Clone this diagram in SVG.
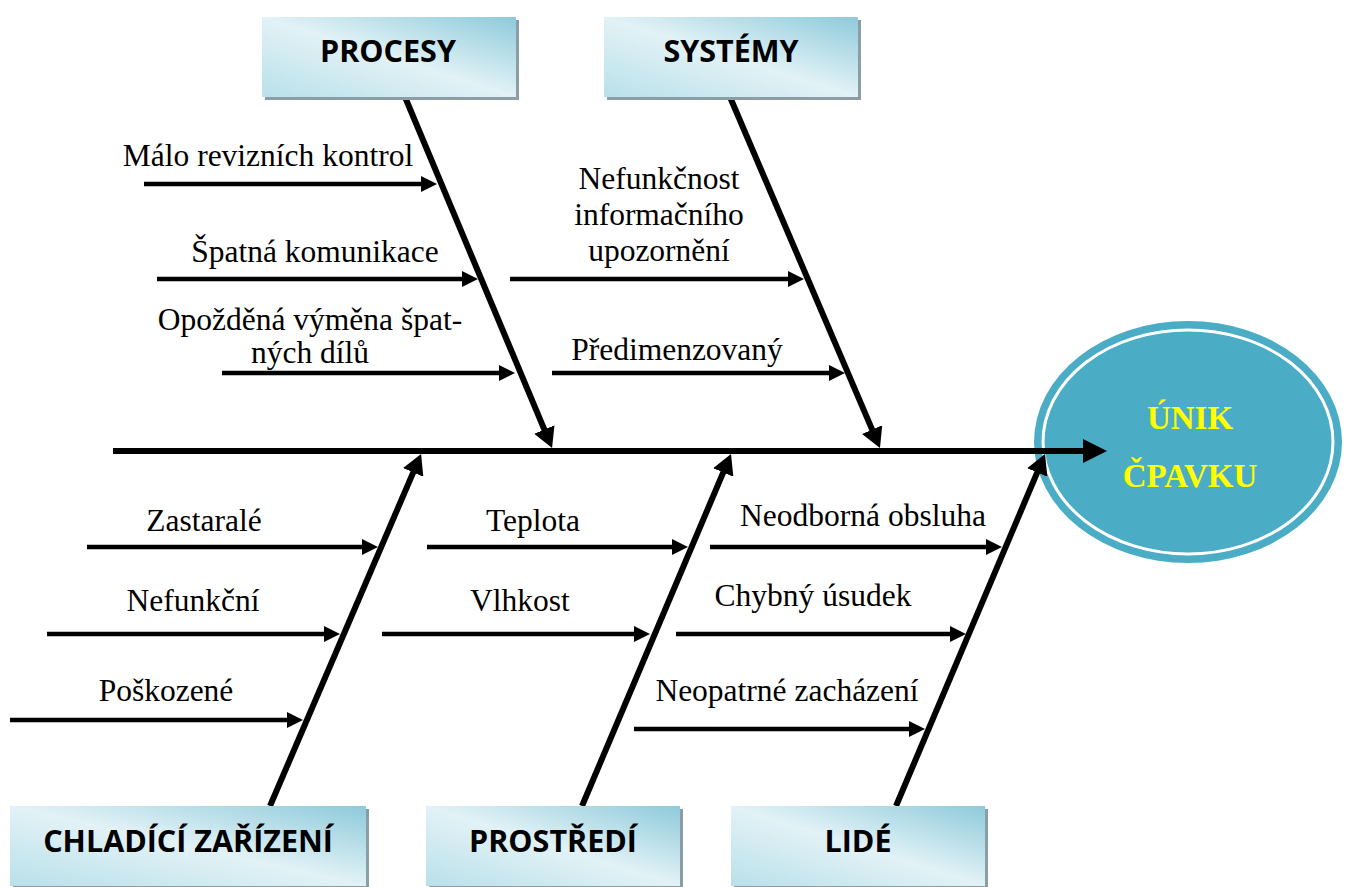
<svg xmlns="http://www.w3.org/2000/svg" width="1352" height="887" viewBox="0 0 1352 887">
<style>
.lbl{font-family:"Liberation Serif","Times New Roman",serif;font-size:31.5px;fill:#000;text-anchor:middle}
.box{fill:url(#boxg)}
.shadow{fill:#8c9ea5}
.btxt{font-family:"Open Sans","Liberation Sans",sans-serif;font-weight:700;font-size:30.5px;fill:#000;text-anchor:middle}
.bone{stroke:#000;stroke-width:6;fill:none;marker-end:url(#ahL)}
.rib{stroke:#000;stroke-width:4.5;fill:none;marker-end:url(#ahS)}
.htxt{font-family:"Liberation Serif","Times New Roman",serif;font-weight:700;font-size:33px;fill:#ffff00;text-anchor:middle}
</style>
<defs>
<linearGradient id="boxg" x1="0" y1="1" x2="1" y2="0">
<stop offset="0" stop-color="#b9e0ea"/>
<stop offset="0.5" stop-color="#e2f2f6"/>
<stop offset="1" stop-color="#8ecadb"/>
</linearGradient>
<marker id="ahS" markerUnits="userSpaceOnUse" markerWidth="16" markerHeight="16" viewBox="0 0 16 16" refX="2" refY="8" orient="auto">
<path d="M0,0 L16,8 L0,16 z" fill="#000"/>
</marker>
<marker id="ahL" markerUnits="userSpaceOnUse" markerWidth="20" markerHeight="22" viewBox="0 0 20 22" refX="2" refY="11" orient="auto">
<path d="M0,0 L20,11 L0,22 z" fill="#000"/>
</marker>
<marker id="ahM" markerUnits="userSpaceOnUse" markerWidth="24" markerHeight="24" viewBox="0 0 24 24" refX="2" refY="12" orient="auto">
<path d="M0,0 L24,12 L0,24 z" fill="#000"/>
</marker>
</defs>

<g id="effect">
<ellipse cx="1188" cy="442" rx="154" ry="121" fill="#4bacc6"/>
<ellipse cx="1188" cy="442" rx="145" ry="112" fill="none" stroke="#fff" stroke-width="3"/>
<text class="htxt" x="1190" y="429">ÚNIK</text>
<text class="htxt" x="1190" y="487">ČPAVKU</text>
</g>

<g id="connectors">
<line x1="113" y1="451" x2="1085" y2="451" stroke="#000" stroke-width="6" marker-end="url(#ahM)"/>
<line class="bone" x1="405" y1="97" x2="545.1" y2="431.4"/>
<line class="bone" x1="730" y1="97" x2="872.9" y2="431.4"/>
<line class="bone" x1="270" y1="806" x2="414" y2="470.6"/>
<line class="bone" x1="582" y1="806" x2="724" y2="470.6"/>
<line class="bone" x1="896" y1="806" x2="1038" y2="470.6"/>
<line class="rib" x1="144" y1="184" x2="423" y2="184"/>
<line class="rib" x1="157" y1="279" x2="464" y2="279"/>
<line class="rib" x1="222" y1="373" x2="501" y2="373"/>
<line class="rib" x1="510" y1="279" x2="790" y2="279"/>
<line class="rib" x1="552" y1="373" x2="831" y2="373"/>
<line class="rib" x1="87" y1="547" x2="364" y2="547"/>
<line class="rib" x1="47" y1="634" x2="326" y2="634"/>
<line class="rib" x1="10" y1="720" x2="289" y2="720"/>
<line class="rib" x1="427" y1="547" x2="674" y2="547"/>
<line class="rib" x1="382" y1="634" x2="636" y2="634"/>
<line class="rib" x1="710" y1="547" x2="988" y2="547"/>
<line class="rib" x1="676" y1="634" x2="952" y2="634"/>
<line class="rib" x1="634" y1="729" x2="911" y2="729"/>
</g>

<g id="procesy">
<rect class="shadow" x="265" y="20" width="254" height="80"/>
<rect class="box" x="262" y="17" width="254" height="80"/>
<text class="btxt" x="388" y="62">PROCESY</text>
</g>
<g id="systemy">
<rect class="shadow" x="607" y="20" width="254" height="80"/>
<rect class="box" x="604" y="17" width="254" height="80"/>
<text class="btxt" x="731" y="62">SYSTÉMY</text>
</g>
<g id="chladici">
<rect class="shadow" x="13" y="809" width="356" height="80"/>
<rect class="box" x="10" y="806" width="356" height="80"/>
<text class="btxt" x="188" y="852">CHLADÍCÍ ZAŘÍZENÍ</text>
</g>
<g id="prostredi">
<rect class="shadow" x="429" y="809" width="254" height="80"/>
<rect class="box" x="426" y="806" width="254" height="80"/>
<text class="btxt" x="553" y="852">PROSTŘEDÍ</text>
</g>
<g id="lide">
<rect class="shadow" x="734" y="809" width="254" height="80"/>
<rect class="box" x="731" y="806" width="254" height="80"/>
<text class="btxt" x="858" y="852">LIDÉ</text>
</g>

<g id="causes">
<text class="lbl" x="268" y="166">Málo revizních kontrol</text>
<text class="lbl" x="315" y="262">Špatná komunikace</text>
<text class="lbl" x="310" y="330">Opožděná výměna špat-</text>
<text class="lbl" x="310" y="363">ných dílů</text>
<text class="lbl" x="659" y="189">Nefunkčnost</text>
<text class="lbl" x="659" y="225">informačního</text>
<text class="lbl" x="659" y="261">upozornění</text>
<text class="lbl" x="677" y="360">Předimenzovaný</text>
<text class="lbl" x="204" y="531">Zastaralé</text>
<text class="lbl" x="193" y="611">Nefunkční</text>
<text class="lbl" x="166" y="701">Poškozené</text>
<text class="lbl" x="533" y="531">Teplota</text>
<text class="lbl" x="520" y="611">Vlhkost</text>
<text class="lbl" x="863" y="526">Neodborná obsluha</text>
<text class="lbl" x="813" y="606">Chybný úsudek</text>
<text class="lbl" x="787" y="701">Neopatrné zacházení</text>
</g>
</svg>
